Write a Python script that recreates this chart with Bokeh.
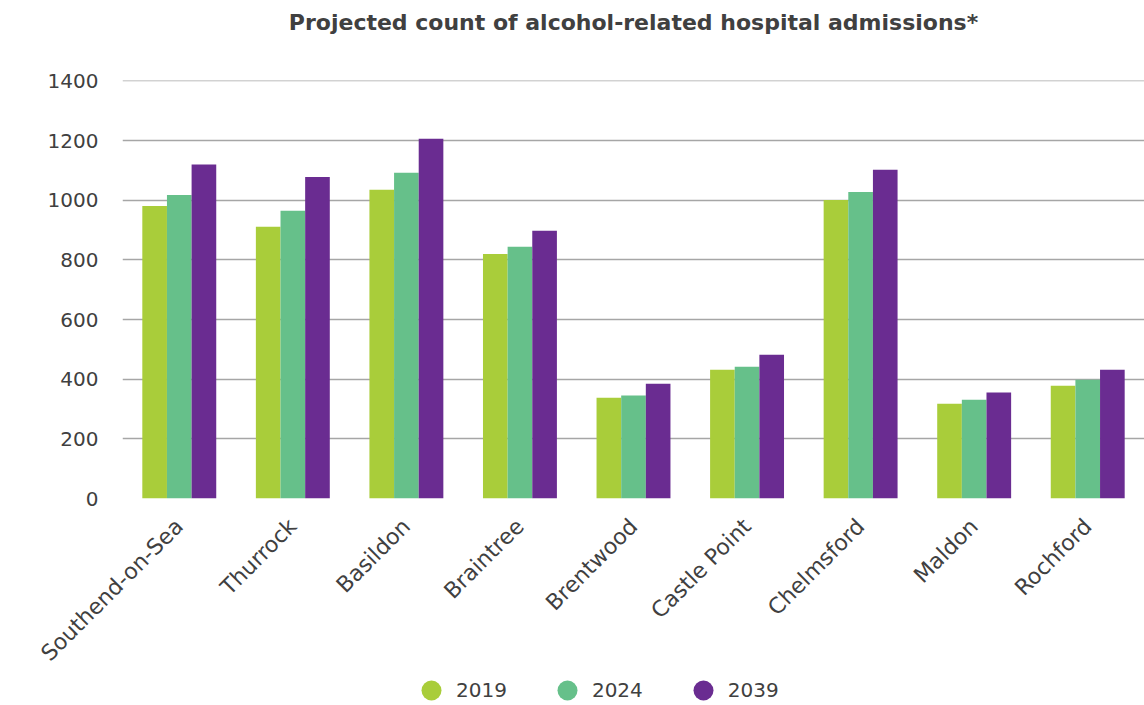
import math
from bokeh.plotting import figure
from bokeh.layouts import column
from bokeh.models import (ColumnDataSource, FactorRange, Range1d, Legend, LegendItem,
                          FixedTicker, Title)
from bokeh.transform import dodge
from bokeh.embed import file_html
from bokeh.resources import INLINE

areas = ["Southend-on-Sea", "Thurrock", "Basildon", "Braintree", "Brentwood",
         "Castle Point", "Chelmsford", "Maldon", "Rochford"]
y2019 = [981, 911, 1035, 820, 338, 432, 1001, 318, 378]
y2024 = [1018, 965, 1092, 844, 345, 442, 1028, 331, 398]
y2039 = [1120, 1078, 1206, 898, 385, 482, 1102, 355, 432]
years = ["2019", "2024", "2039"]
colors = ["#a9cd3a", "#66c08a", "#6a2c91"]
y_ticks = [0, 200, 400, 600, 800, 1000, 1200, 1400]
title_text = "Projected count of alcohol-related hospital admissions*"

FONT = "DejaVu Sans"
TXT = "#404040"


def blank(fig):
    fig.outline_line_color = None
    fig.xgrid.grid_line_color = None
    fig.ygrid.grid_line_color = None


# header strip with the title
hf = figure(width=1144, height=45, output_backend="svg", toolbar_location=None,
            x_range=Range1d(0, 1), y_range=Range1d(0, 1),
            x_axis_location=None, y_axis_location=None,
            min_border_left=122, min_border_right=0, min_border_top=0, min_border_bottom=0)
blank(hf)
hf.title = Title(text=title_text, align="center", text_font=FONT,
                 text_font_size="22px", text_font_style="bold", text_color=TXT,
                 standoff=14)

src = ColumnDataSource(dict(area=areas, y2019=y2019, y2024=y2024, y2039=y2039))

p = figure(width=1144, height=634, output_backend="svg", toolbar_location=None,
           x_range=FactorRange(factors=areas, range_padding=0),
           y_range=Range1d(0, 1401.5),
           min_border_left=122, min_border_right=0, min_border_top=35,
           min_border_bottom=181)

bw = 0.217
for key, off, col in zip(["y2019", "y2024", "y2039"], [-bw, 0, bw], colors):
    p.vbar(x=dodge("area", off, range=p.x_range), top=key, width=bw,
           source=src, fill_color=col, line_color=None)

p.xgrid.grid_line_color = None
p.ygrid.grid_line_color = "#a6a6a6"
p.ygrid.grid_line_width = 1.5
p.yaxis.ticker = FixedTicker(ticks=y_ticks)
p.outline_line_color = None

for ax in (p.xaxis[0], p.yaxis[0]):
    ax.axis_line_color = None
    ax.major_tick_line_color = None
    ax.minor_tick_line_color = None
    ax.major_tick_out = 0
    ax.major_tick_in = 0
    ax.major_label_text_font = FONT
    ax.major_label_text_color = TXT

p.yaxis.major_label_text_font_size = "20px"
p.xaxis.major_label_text_font_size = "22px"
p.yaxis.major_label_standoff = 24
p.xaxis.major_label_orientation = math.pi / 4
p.xaxis.major_label_standoff = 24

# legend strip below the chart
lf = figure(width=1144, height=26, output_backend="svg", toolbar_location=None,
            x_range=Range1d(0, 1), y_range=Range1d(0, 1),
            x_axis_location=None, y_axis_location=None,
            min_border_left=0, min_border_right=0, min_border_top=0, min_border_bottom=0)
blank(lf)
leg_r = []
for col in colors:
    s = lf.scatter(x=[-5], y=[-5], size=20, marker="circle",
                   fill_color=col, line_color=None)
    leg_r.append(s)

legend = Legend(items=[LegendItem(label=yr, renderers=[r]) for yr, r in zip(years, leg_r)],
                orientation="horizontal", location=(284, -10),
                label_text_font=FONT, label_text_font_size="20px",
                label_text_color=TXT, glyph_width=50, glyph_height=50,
                label_standoff=-10, spacing=35, border_line_color=None,
                background_fill_alpha=0, padding=0, margin=0)
lf.add_layout(legend, "center")

open("out.html", "w").write(file_html(column(hf, p, lf, spacing=0), INLINE))
